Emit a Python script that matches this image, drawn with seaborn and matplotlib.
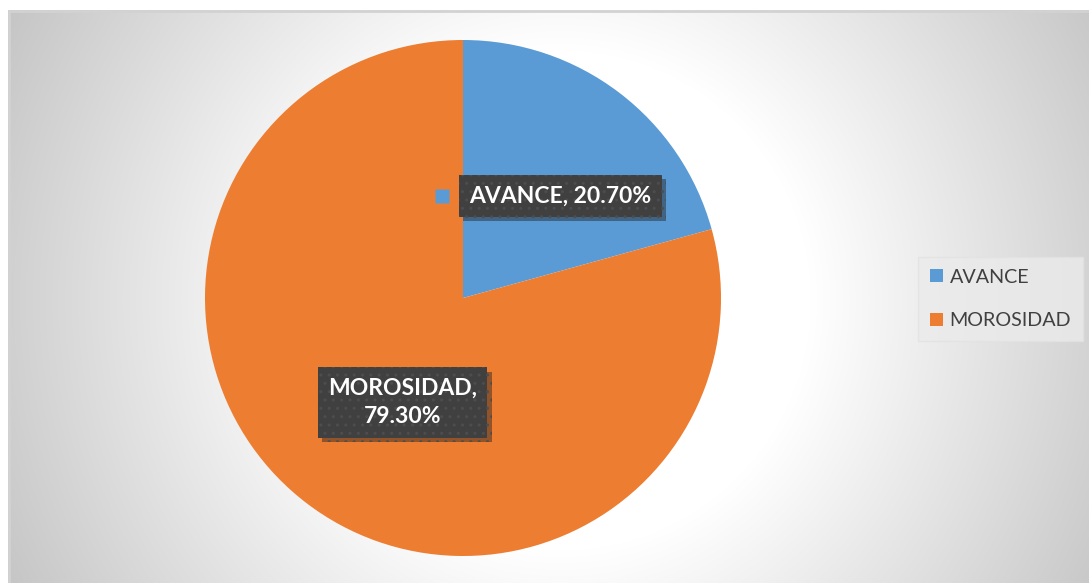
import numpy as np
import matplotlib
matplotlib.use("Agg")
import matplotlib.pyplot as plt
import matplotlib.patheffects as pe
from matplotlib.patches import Patch
from matplotlib.transforms import offset_copy
import seaborn as sns

# data
categories = ["AVANCE", "MOROSIDAD"]
shares = [20.70, 79.30]
label_texts = ["AVANCE, 20.70%", "MOROSIDAD,\n79.30%"]

sns.set_theme(style="white")
plt.rcParams["font.family"] = ["Lato", "DejaVu Sans"]
colors = sns.color_palette(["#5B9BD5", "#ED7D31"])

W, H = 1089, 583
fig = plt.figure(figsize=(W / 100, H / 100), dpi=100, facecolor="white")

# --- radial gradient background of the chart area ---
x0, y0 = 8, 10
bg = fig.add_axes([x0 / W, 0, 1 - x0 / W, 1 - y0 / H])
xx, yy = np.meshgrid(np.arange(x0, W), np.arange(y0, H))
r = np.hypot(xx - 560, yy - 300)
shade = np.clip(255 - 0.155 * np.clip(r - 250, 0, None), 190, 255) / 255
bg.imshow(np.dstack([shade] * 3), aspect="auto", interpolation="bilinear")
bg.set_axis_off()
bg.axhline(0, color="#d2d2d2", lw=2)
bg.axvline(0, color="#d2d2d2", lw=2)

# --- pie ---
cx, cy, rad = 463, 298, 258
ax = fig.add_axes([(cx - rad) / W, 1 - (cy + rad) / H, 2 * rad / W, 2 * rad / H])
wedges, _ = ax.pie(shares, colors=colors, startangle=90, counterclock=False,
                   wedgeprops=dict(linewidth=0))
ax.set_xlim(-1, 1)
ax.set_ylim(-1, 1)

# data label placement (distance from centre, nudge in pixels)
label_dist = [0.56, 0.47]
nudge_px = [(10, -13), (13, -8)]
px2pt = 0.72

for i, (w, txt, d) in enumerate(zip(wedges, label_texts, label_dist)):
    mid = np.deg2rad((w.theta1 + w.theta2) / 2)
    anchor = (d * np.cos(mid), d * np.sin(mid))
    off = (nudge_px[i][0] * px2pt, nudge_px[i][1] * px2pt)
    t = ax.annotate(txt, anchor, xytext=off, textcoords="offset points",
                    ha="center", va="center", color="white", fontsize=16.5,
                    fontweight="bold", linespacing=1.45,
                    bbox=dict(boxstyle="square,pad=0.45", facecolor="#404040",
                              edgecolor="#4d4d4d", hatch="..", linewidth=0))
    t.get_bbox_patch().set_path_effects([
        pe.SimplePatchShadow(offset=(3, -3), shadow_rgbFace="#222222", alpha=0.45),
        pe.Normal()])
    if i == 0:
        # small legend key beside the AVANCE label
        tr = offset_copy(ax.transData, fig=fig, x=off[0] - 118 * px2pt,
                         y=off[1], units="points")
        ax.plot(*anchor, marker="s", ms=10.5, color=colors[0], mec="none",
                transform=tr, clip_on=False)

# --- legend ---
handles = [Patch(facecolor=c, edgecolor="none") for c in colors]
leg = fig.legend(handles, categories, loc="center left",
                 bbox_to_anchor=(918 / W, 1 - 299 / H), fontsize=14.2,
                 frameon=True, fancybox=False, labelspacing=1.35,
                 handlelength=0.65, handleheight=0.65, handletextpad=0.35,
                 borderpad=0.6, borderaxespad=0)
leg.get_frame().set_facecolor("#ebebeb")
leg.get_frame().set_edgecolor("#e2e2e2")
for t in leg.get_texts():
    t.set_color("#404040")

fig.savefig("out.png", dpi=100, facecolor="white")
